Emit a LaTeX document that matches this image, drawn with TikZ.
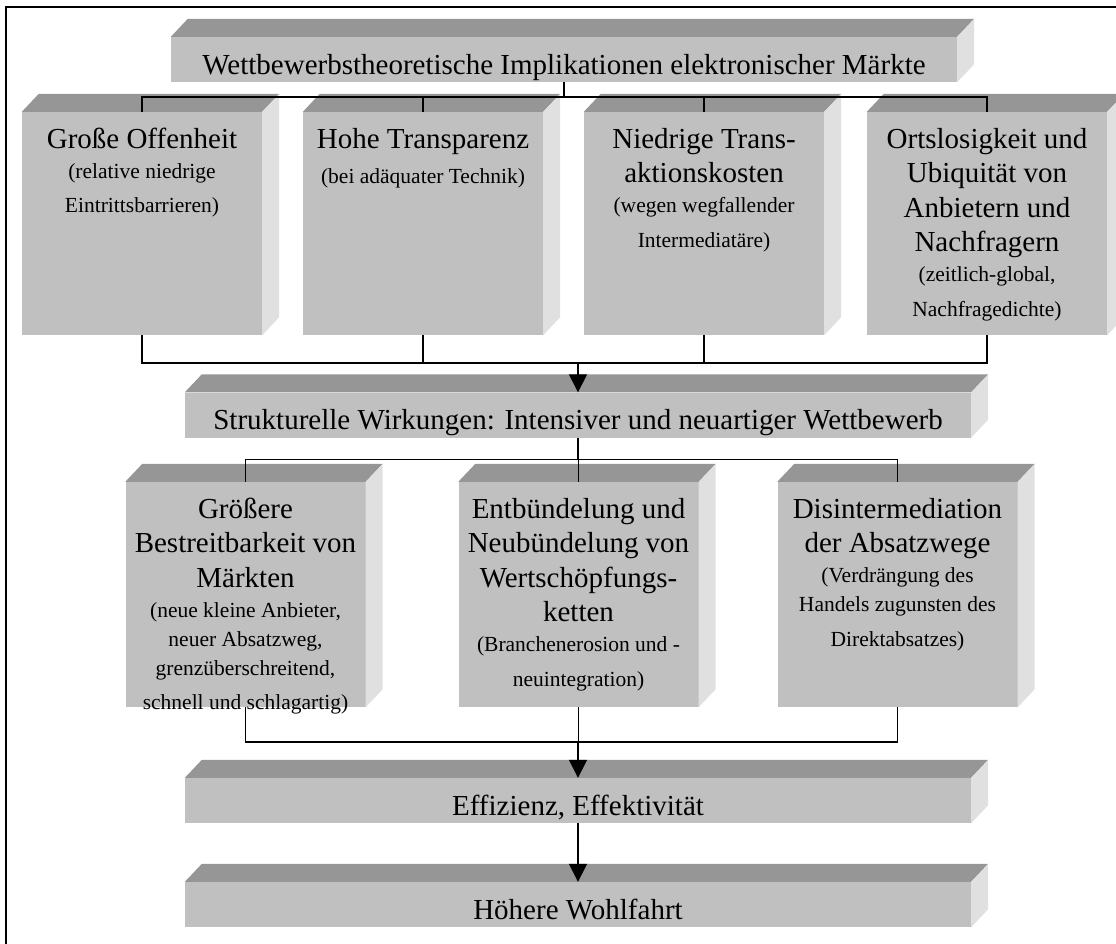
\documentclass[tikz,border=0pt]{standalone}
\usepackage{fontspec}
\setmainfont{Liberation Serif}
\usepackage{tikz}
\usetikzlibrary{arrows.meta}

\definecolor{frontgray}{gray}{0.753}
\definecolor{topgray}{gray}{0.588}
\definecolor{sidegray}{gray}{0.878}
\newcommand\bigtxt{\fontsize{29}{34.5}\selectfont}
\newcommand\smalltxt{\par\vspace{1pt}\fontsize{21.5}{29}\selectfont}

\begin{document}
\begin{tikzpicture}[%
            x=1pt, y=-1pt,
            wide/.style={
                fill=frontgray, inner sep=0pt,
                minimum width=786pt, minimum height=45pt,
                text height=37pt, text depth=8pt,
                font=\bigtxt,
            },
            tall/.style={
                fill=frontgray, inner sep=0pt,
                execute at begin node={\begin{minipage}[c][#1][t]{240pt}\centering\bigtxt\rule{0pt}{36pt}\ignorespaces},
                execute at end node={\end{minipage}},
            },
            link/.style={line width=1.5pt},
            tip/.style={link, -{Triangle[length=18pt,width=18pt]}},
        ]
        \path[use as bounding box] (0,0) rectangle (1116,943);
        \clip (0,0) rectangle (1116,943);
        \draw[line width=2.5pt] (6,960) -- (6,7) -- (1130,7);

        \node[wide] (top) at (564,59.5) {Wettbewerbstheoretische Implikationen elektronischer Märkte};

        \node[tall=223pt] (a) at (142,223.5) {Große Offenheit\smalltxt (relative niedrige\\Eintrittsbarrieren)};
        \node[tall=223pt] (b) at (423,223.5) {Hohe Transparenz\smalltxt (bei adäquater Technik)};
        \node[tall=223pt] (c) at (704,223.5) {Niedrige Trans-\\aktionskosten\smalltxt (wegen wegfallender\\Intermediatäre)};
        \node[tall=223pt] (d) at (987,223.5) {Ortslosigkeit und\\Ubiquität von\\Anbietern und\\Nachfragern\smalltxt (zeitlich-global,\\Nachfragedichte)};

        \node[wide] (mid) at (578,415) {Strukturelle Wirkungen: Intensiver und neuartiger Wettbewerb};

        \node[tall=225pt] (e) at (245.5,594.5) {Größere\\Bestreitbarkeit von\\Märkten\smalltxt (neue kleine Anbieter,\\neuer Absatzweg,\\grenzüberschreitend,\\schnell und schlagartig)};
        \node[tall=225pt] (f) at (578.5,594.5) {Entbündelung und\\Neubündelung von\\Wertschöpfungs-\\ketten\smalltxt (Branchenerosion und -\\neuintegration)};
        \node[tall=225pt] (g) at (897.5,594.5) {Disintermediation\\der Absatzwege\smalltxt (Verdrängung des\\Handels zugunsten des\\Direktabsatzes)};

        \node[wide] (eff) at (578,800.5) {Effizienz, Effektivität};
        \node[wide] (wohl) at (578,904.5) {Höhere Wohlfahrt};

        % 3D faces
        \foreach \n in {top,a,b,c,d,mid,e,f,g,eff,wohl} {
            \fill[topgray] (\n.north west) -- ++(17,-18) -- ([shift={(17,-18)}]\n.north east) -- (\n.north east) -- cycle;
            \fill[sidegray] (\n.north east) -- ([shift={(17,-18)}]\n.north east) -- ([shift={(17,-18)}]\n.south east) -- (\n.south east) -- cycle;
        }

        % top to first row
        \draw[link] (top.south) -- ++(0,15) coordinate (j1);
        \draw[link] (a.north) |- (j1) -| (d.north);
        \draw[link] (b.north) -- (b.north |- j1);
        \draw[link] (c.north) -- (c.north |- j1);

        % first row to mid
        \draw[link] (a.south) -- ++(0,28) coordinate (j2) -| (d.south);
        \draw[link] (b.south) -- (b.south |- j2);
        \draw[link] (c.south) -- (c.south |- j2);
        \draw[tip] (mid.north |- j2) -- (mid.north);

        % mid to second row
        \draw[link] (mid.south) -- ++(0,22) coordinate (j3);
        \draw[link] (e.north) |- (j3) -| (g.north);
        \draw[link] (f.north) -- (f.north |- j3);

        % second row down
        \draw[link] (e.south) -- ++(0,35) coordinate (j4) -| (g.south);
        \draw[link] (f.south) -- (f.south |- j4);
        \draw[tip] (eff.north |- j4) -- (eff.north);
        \draw[tip] (eff.south) -- (wohl.north);
    \end{tikzpicture}
\end{document}
